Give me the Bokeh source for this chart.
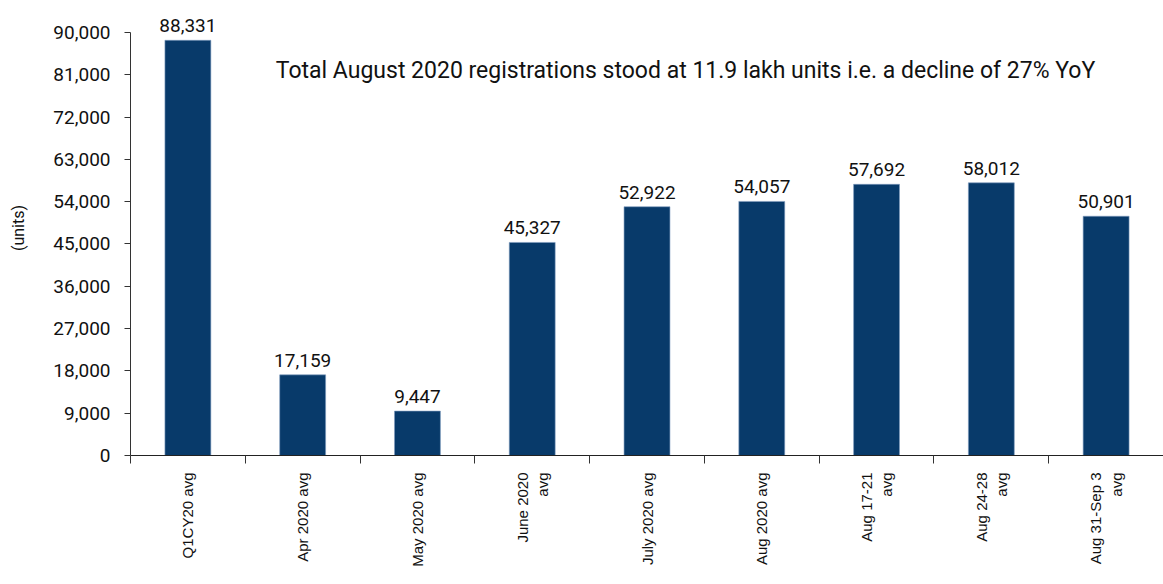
import math
from bokeh.plotting import figure
from bokeh.models import (Range1d, LinearAxis, CategoricalAxis, FixedTicker,
                          NumeralTickFormatter, Label, ColumnDataSource)
from bokeh.core.properties import value
from bokeh.embed import file_html
from bokeh.resources import INLINE

categories = ["Q1CY20 avg", "Apr 2020 avg", "May 2020 avg", "June 2020\navg",
              "July 2020 avg", "Aug 2020 avg", "Aug 17-21\navg", "Aug 24-28\navg",
              "Aug 31-Sep 3\navg"]
values = [88331, 17159, 9447, 45327, 52922, 54057, 57692, 58012, 50901]
y_ticks = [0, 9000, 18000, 27000, 36000, 45000, 54000, 63000, 72000, 81000, 90000]
note = "Total August 2020 registrations stood at 11.9 lakh units i.e. a decline of 27% YoY"

NUMF = "Roboto"
BAR = "#083a6a"

src = ColumnDataSource(dict(cat=categories, val=values,
                            lab=[f"{v:,}" for v in values]))

p = figure(x_range=categories, y_range=Range1d(0, 96800), width=1163, height=584,
           output_backend="svg", toolbar_location=None, x_axis_location=None,
           min_border_left=130, min_border_right=0, min_border_top=0,
           min_border_bottom=129)
p.outline_line_color = None
p.grid.visible = False
p.background_fill_color = "white"

p.vbar(x="cat", top="val", width=0.4, source=src, fill_color=BAR,
       line_color="#7f9cc0", line_width=0.6)
p.text(x="cat", y="val", text="lab", source=src, text_align="center",
       text_baseline="bottom", y_offset=-8, text_font=value(NUMF),
       text_font_size="19px", text_color="#111111")

# y axis
ya = p.yaxis[0]
ya.bounds = (0, 90000)
ya.ticker = FixedTicker(ticks=y_ticks)
ya.formatter = NumeralTickFormatter(format="0,0")
ya.major_label_text_font = NUMF
ya.major_label_text_font_size = "19px"
ya.major_label_text_color = "#111111"
ya.major_label_standoff = 14
ya.minor_tick_line_color = None
ya.major_tick_in = 0
ya.major_tick_out = 6
ya.axis_line_color = "#333333"
ya.major_tick_line_color = "#333333"
ya.axis_label = "(units)"
ya.axis_label_text_font = NUMF
ya.axis_label_text_font_size = "16px"
ya.axis_label_text_font_style = "normal"
ya.axis_label_text_color = "#111111"
ya.axis_label_standoff = 22

# x axis: ticks at category boundaries (no labels)
bounds = list(range(len(categories) + 1))
tick_axis = LinearAxis(ticker=FixedTicker(ticks=bounds),
                       major_label_overrides={b: "" for b in bounds},
                       major_label_text_font_size="2px", major_label_standoff=0,
                       major_tick_in=0, major_tick_out=8, minor_tick_line_color=None,
                       axis_line_color="#222222", major_tick_line_color="#333333")
p.add_layout(tick_axis, "below")

lab_axis = CategoricalAxis(axis_line_color=None, major_tick_line_color=None,
                           major_label_orientation=math.pi / 2,
                           major_label_text_font="Liberation Sans",
                           major_label_text_font_size="15px",
                           major_label_text_color="#111111",
                           major_label_standoff=3)
p.add_layout(lab_axis, "below")

p.add_layout(Label(x=555, y=385, x_units="screen", y_units="screen", text=note,
                   text_align="center", text_baseline="middle",
                   text_font=NUMF, text_font_size="23px", text_color="#111111"))

open("out.html", "w").write(file_html(p, INLINE))
